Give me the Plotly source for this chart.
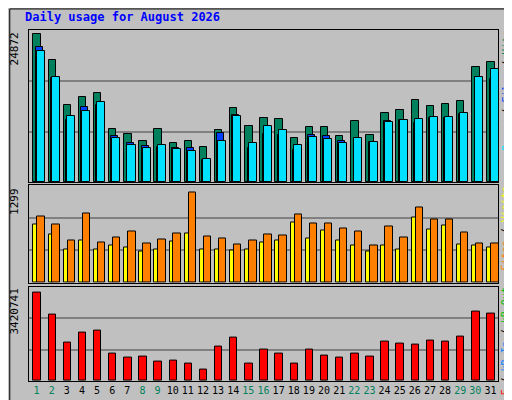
import plotly.graph_objects as go
from plotly.subplots import make_subplots

days = [str(d) for d in range(1, 32)]
weekend = [1, 2, 8, 9, 15, 16, 22, 23, 29, 30]

hits = [24872, 20385, 12990, 14334, 15006, 8957, 8117, 6940, 8957, 6604, 6940, 5932, 8789, 12486, 9461, 10806,
        10638, 7444, 9293, 9293, 7781, 10302, 7949, 11646, 12150, 13830, 12822, 13158, 13662, 19208, 20048]
files = [22569, 17360, 10470, 12654, 12990, 7781, 6604, 6100, 5932, 5764, 5764, 3748, 8285, 11310, 5764, 8117,
         7949, 5428, 7949, 7781, 6940, 7277, 6772, 10302, 10470, 9966, 10806, 10806, 11478, 17528, 17192]
pages = [21897, 17528, 11142, 11982, 13494, 7444, 6268, 5764, 6268, 5596, 5260, 3916, 6940, 11142, 6604, 9461,
         8789, 6268, 7613, 7277, 6604, 7444, 6772, 10134, 10470, 10638, 10974, 10974, 11646, 17528, 18872]

visits = [835, 694, 483, 610, 483, 539, 511, 441, 469, 596, 708, 469, 483, 455, 483, 582,
          610, 863, 638, 750, 610, 539, 441, 539, 483, 933, 764, 821, 553, 539, 511]
sites = [947, 835, 610, 990, 582, 652, 736, 567, 624, 708, 1299, 666, 638, 553, 610, 694,
         680, 975, 849, 849, 779, 736, 539, 807, 652, 1074, 905, 905, 722, 567, 567]

kbytes = [3420741, 2596672, 1510564, 1885084, 1959988, 1061140, 911332, 948784, 761524, 798976, 686620, 461908,
          1323304, 1697824, 686620, 1210948, 1061140, 686620, 1210948, 986236, 911332, 1061140, 948784, 1548016,
          1473112, 1435660, 1585468, 1548016, 1735276, 2709028, 2634124]

fig = make_subplots(rows=3, cols=1, shared_xaxes=True)

def bar(y, color, off, w, row):
    fig.add_trace(go.Bar(x=list(range(1, 32)), y=y, marker_color=color, offset=off, width=w,
                         marker_line_color='black', marker_line_width=1, showlegend=False), row=row, col=1)

bar(hits, '#00805C', -0.21, 0.49, 1)
bar(files, '#0040FF', -0.05, 0.46, 1)
bar(pages, '#00E0FF', 0.01, 0.53, 1)
bar(visits, '#FFFF00', -0.21, 0.27, 2)
bar(sites, '#FF8000', 0.05, 0.49, 2)
bar(kbytes, '#FF0000', -0.21, 0.49, 3)

ranges = [25460, 1393, 3672000]
domains = [[0.566, 1.0], [0.28, 0.557], [0.0, 0.269]]
for i in range(3):
    r = ranges[i]
    fig.update_yaxes(row=i + 1, col=1, range=[0, r], domain=domains[i], tickvals=[r / 3, 2 * r / 3],
                     showticklabels=False, showgrid=True, gridcolor='#808080', gridwidth=1.5,
                     zeroline=False, showline=True, linecolor='black', mirror=True, ticks='')

ticktext = []
for d in range(1, 32):
    c = '#00805C' if d in weekend else 'black'
    ticktext.append('<span style="color:%s">%d</span>' % (c, d))
fig.update_xaxes(range=[0.5, 31.5], showgrid=False, showline=True, linecolor='black', mirror=True,
                 tickvals=list(range(1, 32)), ticktext=ticktext, ticks='')
fig.update_xaxes(showticklabels=False, row=1, col=1)
fig.update_xaxes(showticklabels=False, row=2, col=1)
fig.update_xaxes(row=3, col=1, tickangle=0, tickfont=dict(family='DejaVu Sans Mono', size=10))

mono = 'DejaVu Sans Mono'
ann = [
    dict(x=-0.03, y=1.0, text='24872', textangle=-90),
    dict(x=-0.03, y=0.557, text='1299', textangle=-90),
    dict(x=-0.03, y=0.269, text='3420741', textangle=-90),
]
for a in ann:
    fig.add_annotation(xref='paper', yref='paper', xanchor='center', yanchor='top', showarrow=False,
                       font=dict(family=mono, size=11, color='black'), **a)

right = [
    (1.0, '<span style="color:#00E0FF">Pages</span> / <span style="color:#0040FF">Files</span> / '
          '<span style="color:#00805C">Hits</span>'),
    (0.557, '<span style="color:#FF8000">Sites</span> / <span style="color:#FFFF00">Visits</span>'),
    (0.269, '<span style="color:#FF0000">kB F</span> / <span style="color:#0080FF">kB In</span> / '
            '<span style="color:#00C000">kB Out</span>'),
]
for y, t in right:
    fig.add_annotation(xref='paper', yref='paper', x=1.017, y=y, xanchor='center', yanchor='top',
                       text=t, textangle=-90, showarrow=False, borderpad=0,
                       font=dict(family=mono, size=10, color='black'))

fig.add_annotation(xref='paper', yref='paper', x=-0.01, y=1.015, xanchor='left', yanchor='bottom',
                   text='<b>Daily usage for August 2026</b>', showarrow=False, borderpad=0,
                   font=dict(family=mono, size=12, color='#0000FF'))

# outer frame with bevel
fig.add_shape(type='rect', xref='paper', yref='paper', x0=-0.041, x1=1.047, y0=-0.069, y1=1.06,
              line=dict(color='black', width=1))
fig.add_shape(type='line', xref='paper', yref='paper', x0=1.04, x1=1.04, y0=-0.065, y1=1.05,
              line=dict(color='#808080', width=4))
fig.add_shape(type='line', xref='paper', yref='paper', x0=-0.035, x1=1.04, y0=-0.065, y1=-0.065,
              line=dict(color='#808080', width=4))

fig.update_layout(width=512, height=400, margin=dict(l=21, r=22, t=22, b=25),
                  paper_bgcolor='#C0C0C0', plot_bgcolor='#C0C0C0', bargap=0, barmode='overlay')

fig.write_html("out.html")
